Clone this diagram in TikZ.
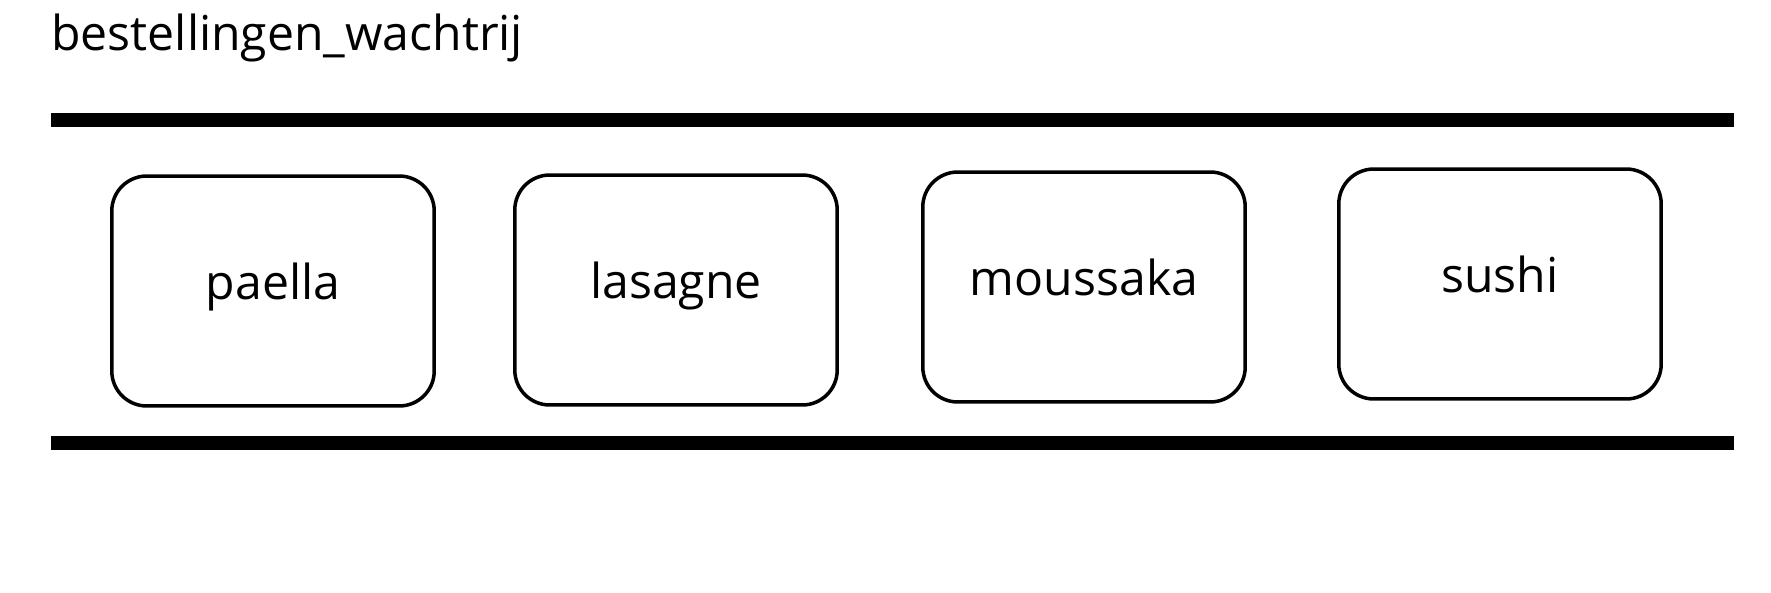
\documentclass[tikz,border=0pt]{standalone}
\usepackage{fontspec}
\setmainfont{Open Sans}
\usetikzlibrary{positioning}

\begin{document}
\begin{tikzpicture}[x=0.02cm, y=-0.02cm]

\tikzset{dish/.style = {shape=rectangle, draw, line width=2pt, rounded corners=0.7cm, minimum width=6.45cm, minimum height=4.6cm, text height=20pt, text depth=10pt, font=\fontsize{27.4}{32}\selectfont}}
\tikzset{rail/.style = {line width=7.8pt}}
\useasboundingbox (0,0) rectangle (1771,592);
% title
\node[anchor=base west, inner sep=0pt, font=\fontsize{27.4}{32}\selectfont] (title) at (51,50) {bestellingen\_wachtrij};
% rails
\coordinate (tl) at (51,120);
\coordinate (tr) at (1734,120);
\coordinate (bl) at (51,443);
\coordinate (br) at (1734,443);
\draw[rail] (tl) -- (tr);
\draw[rail] (bl) -- (br);
% queue
\node[dish] (1) at (273,291) {paella};
\node[dish] (2) at (676,290) {lasagne};
\node[dish] (3) at (1084,287) {moussaka};
\node[dish] (4) at (1500,284) {sushi};

\end{tikzpicture}
\end{document}
